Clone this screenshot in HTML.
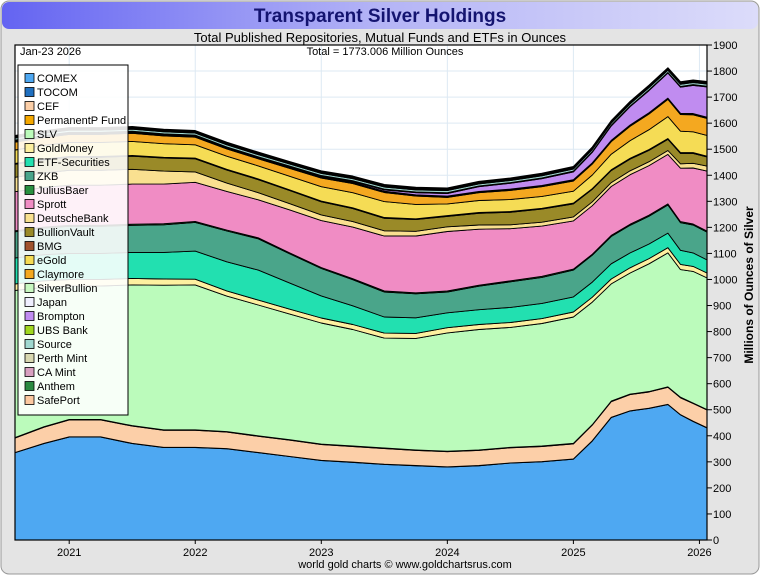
<!DOCTYPE html>
<html><head><meta charset="utf-8"><style>
body{margin:0;background:#fff;font-family:"Liberation Sans",sans-serif}
#wrap{position:relative;width:760px;height:575px;overflow:hidden}
</style></head><body>
<div id="wrap">
<svg id="svg" width="760" height="575" xmlns="http://www.w3.org/2000/svg" font-family="Liberation Sans, sans-serif">
<defs><linearGradient id="tg" x1="0" x2="1"><stop offset="0" stop-color="#6464f2"/><stop offset="0.5" stop-color="#b4b4f6"/><stop offset="1" stop-color="#dcdcfa"/></linearGradient></defs>
<rect x="1" y="1" width="758" height="573" rx="8" fill="#e4e4e4" stroke="#999"/>
<rect x="2" y="2" width="756" height="27" rx="7" fill="url(#tg)"/>
<text x="380" y="22" text-anchor="middle" font-size="19" font-weight="bold" fill="#141470">Transparent Silver Holdings</text>
<text x="380" y="42" text-anchor="middle" font-size="13" fill="#000">Total Published Repositories, Mutual Funds and ETFs in Ounces</text>
<rect x="15" y="45" width="692" height="495" fill="#fff"/>
<g id="grid"></g>
<g id="areas"></g>
<rect x="15" y="45" width="692" height="495" fill="none" stroke="#000" stroke-width="1.2"/>
<g id="axes"></g>
<text x="20" y="55" font-size="11">Jan-23  2026</text>
<text x="385" y="55" text-anchor="middle" font-size="11">Total = 1773.006 Million Ounces</text>
<text transform="translate(753,285) rotate(-90)" text-anchor="middle" font-size="12" font-weight="bold">Millions of Ounces of Silver</text>
<text x="405" y="568" text-anchor="middle" font-size="11">world gold charts © www.goldchartsrus.com</text>
<g id="legend"></g>
</svg>
</div>
<script>
const dates=[2020.57,2020.8,2021.0,2021.25,2021.5,2021.75,2022.0,2022.25,2022.5,2022.75,2023.0,2023.25,2023.5,2023.75,2024.0,2024.25,2024.5,2024.75,2025.0,2025.15,2025.3,2025.45,2025.6,2025.75,2025.85,2025.95,2026.06];
const seriesNames=["COMEX","TOCOM","CEF","PermanentP Fund","SLV","GoldMoney","ETF-Securities","ZKB","JuliusBaer","Sprott","DeutscheBank","BullionVault","BMG","eGold","Claymore","SilverBullion","Japan","Brompton","UBS Bank","Source","Perth Mint","CA Mint","Anthem","SafePort"];
const colors=["#4ea8f2","#2070c0","#fccfa8","#f5a800","#bbfbbb","#fdf0a0","#22e0b0","#4aa58a","#2a9040","#f08cc4","#f9e090","#9a8a28","#a0522d","#f5dc55","#f4a820","#c8f8c0","#f0f0ff","#c08cf0","#a0d820","#a0d8d0","#d8d8b0","#d8a0c0","#2a8a40","#fcc8a0"];
const comex=[335,370,395,395,370,355,355,350,335,320,305,298,290,285,280,285,295,300,310,380,470,495,505,520,480,455,430];
const tocom=dates.map(()=>1);
const cef=[55,62,65,65,66,65,65,63,62,62,60,60,60,58,58,58,58,58,58,60,60,62,62,65,65,68,68];
const permanentp=dates.map(()=>2);
const slv=[565,535,512,512,540,555,556,520,502,482,465,447,422,428,454,462,460,470,485,470,450,465,490,514,490,505,505];
const goldmoney=[25,25,25,25,25,24,22,20,19,19,19,19,19,19,20,19,19,19,19,19,19,20,20,20,20,19,19];
const etfs=[100,100,100,100,100,102,108,112,115,100,85,72,62,60,57,57,58,58,58,58,58,57,56,56,54,52,50];
const zkb=[100,102,104,104,104,106,110,118,120,112,105,100,96,92,80,90,98,100,103,103,105,106,107,108,106,107,107];
const juliusbaer=dates.map(()=>4);
const sprott=[150,152,154,154,154,152,150,148,146,165,180,198,211,218,228,215,200,193,185,186,188,190,190,190,205,215,230];
const deutsche=[55,56,57,57,57,50,40,32,27,24,22,21,20,18,18,16,15,15,15,15,15,15,15,15,17,18,19];
const bullionvault=[50,50,50,50,50,50,50,50,50,50,50,50,48,45,40,45,48,50,50,48,46,45,44,43,40,38,35];
const bmg=dates.map(()=>3);
const egold=[52,53,54,54,54,52,51,50,50,52,55,58,61,55,45,46,46,46,46,52,60,68,76,84,82,80,80];
const claymore=[30,30,31,31,31,30,29,28,27,30,33,35,35,32,25,30,35,37,39,42,48,55,60,66,64,65,65];
const silverbullion=dates.map(()=>3);
const japan=dates.map(()=>2);
const brompton=[0,0,0,0,0,0,0,0,0,1,2,3,5,8,10,18,22,26,30,40,55,70,85,96,100,108,116];
const ubs=dates.map(()=>3);
const source=dates.map(()=>8);
const perth=dates.map(()=>3);
const camint=dates.map(()=>2);
const anthem=dates.map(()=>3);
const safeport=dates.map(()=>2);
const layers=[comex,tocom,cef,permanentp,slv,goldmoney,etfs,zkb,juliusbaer,sprott,deutsche,bullionvault,bmg,egold,claymore,silverbullion,japan,brompton,ubs,source,perth,camint,anthem,safeport];
const yTicks=[0,100,200,300,400,500,600,700,800,900,1000,1100,1200,1300,1400,1500,1600,1700,1800,1900];
const xTicks=[2021,2022,2023,2024,2025,2026];

const NS="http://www.w3.org/2000/svg";
const X0=15,X1=707,Y0=540,Y1=45;
const xs=d=>X0+(d-2020.57)/(2026.06-2020.57)*(X1-X0);
const ys=v=>Y0-v/1900*(Y0-Y1);
function mk(tag,attrs,parent){const e=document.createElementNS(NS,tag);for(const k in attrs)e.setAttribute(k,attrs[k]);parent.appendChild(e);return e;}
const grid=document.getElementById('grid'),axes=document.getElementById('axes'),areas=document.getElementById('areas'),leg=document.getElementById('legend');
yTicks.forEach(t=>{
 const y=ys(t);
 if(t>0&&t<1900){const g=mk('line',{x1:X0,x2:X1,y1:y,y2:y,stroke:'#dde9f3','stroke-width':1},grid);
 
 }
 mk('line',{x1:X1,x2:X1+5,y1:y,y2:y,stroke:'#000'},axes);
 const tx=mk('text',{x:X1+6,y:y+4,'font-size':11},axes);tx.textContent=t;
 
 
});
xTicks.forEach(t=>{
 const x=xs(t);
 const g=mk('line',{x1:x,x2:x,y1:Y1,y2:Y0,stroke:'#dde9f3'},grid);
 
 
 mk('line',{x1:x,x2:x,y1:Y0,y2:Y0+4,stroke:'#000'},axes);
 const tx=mk('text',{x:x,y:556,'font-size':11,'text-anchor':'middle'},axes);tx.textContent=t;
 
 
});
let base=dates.map(()=>0);
layers.forEach((arr,i)=>{
 const top=base.map((b,j)=>b+arr[j]);
 let d='M'+dates.map((dt,j)=>xs(dt).toFixed(1)+','+ys(top[j]).toFixed(1)).join('L');
 for(let j=dates.length-1;j>=0;j--)d+='L'+xs(dates[j]).toFixed(1)+','+ys(base[j]).toFixed(1);
 d+='Z';
 const p=mk('path',{d:d,fill:colors[i],stroke:'#000','stroke-width':0.9,'stroke-linejoin':'round'},areas);
 
 
 base=top;
});
const lb=mk('rect',{x:18,y:65,width:110,height:350,fill:'#fff','fill-opacity':0.88,stroke:'#000'},leg);


seriesNames.forEach((n,i)=>{
 const y=78+i*14;
 const g=mk('g',{},leg);
 
 
 mk('rect',{x:25,y:y-4.5,width:9,height:9,fill:colors[i],stroke:'#000','stroke-width':0.8},g);
 const t=mk('text',{x:37,y:y+4,'font-size':11},g);t.textContent=n;
});
</script>
</body></html>
